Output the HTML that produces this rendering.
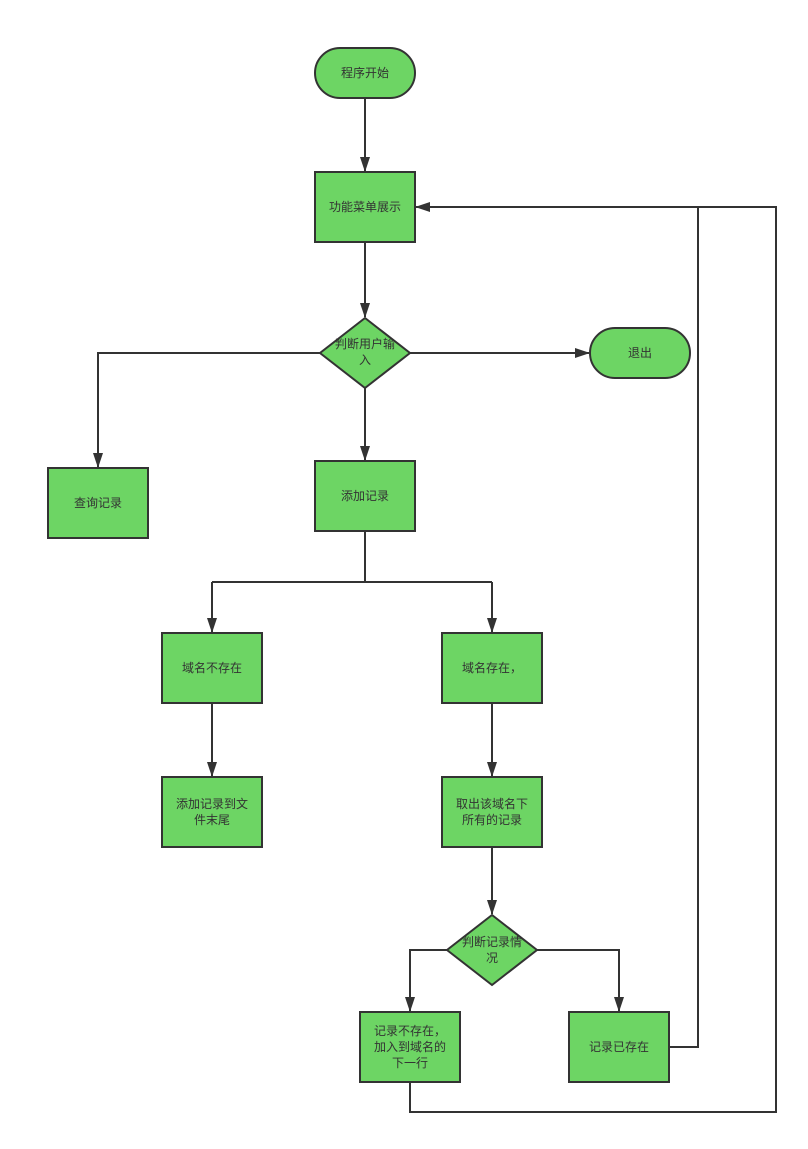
<!DOCTYPE html>
<html><head><meta charset="utf-8"><style>
html,body{margin:0;padding:0;background:#fff;}
svg text{font-family:"Liberation Sans","Noto Sans CJK SC",sans-serif;font-size:12px;fill:#333;text-anchor:middle;}
</style></head><body>
<svg width="808" height="1144" viewBox="0 0 808 1144" xmlns="http://www.w3.org/2000/svg">
<defs><marker id="a" markerWidth="15" markerHeight="11" refX="14" refY="5" orient="auto" markerUnits="userSpaceOnUse" viewBox="0 0 15 10"><path d="M0,0 L15,5 L0,10 Z" fill="#333"/></marker></defs>
<g fill="none" stroke="#333" stroke-width="2">
<path d="M365,98 V171" marker-end="url(#a)"/>
<path d="M365,242 V317" marker-end="url(#a)"/>
<path d="M320,353 H98 V467" marker-end="url(#a)"/>
<path d="M410,353 H589" marker-end="url(#a)"/>
<path d="M365,388 V460" marker-end="url(#a)"/>
<path d="M365,531 V582 M212,582 H492"/>
<path d="M212,582 V632" marker-end="url(#a)"/>
<path d="M492,582 V632" marker-end="url(#a)"/>
<path d="M212,703 V776" marker-end="url(#a)"/>
<path d="M492,703 V776" marker-end="url(#a)"/>
<path d="M492,847 V914" marker-end="url(#a)"/>
<path d="M447,950 H410 V1011" marker-end="url(#a)"/>
<path d="M537,950 H619 V1011" marker-end="url(#a)"/>
<path d="M669,1047 H698 V207 H416" marker-end="url(#a)"/>
<path d="M410,1082 V1112 H776 V207 H698"/>
</g>
<g fill="#6dd564" stroke="#333" stroke-width="2">
<rect x="315" y="48" width="100" height="50" rx="25"/>
<rect x="315" y="172" width="100" height="70"/>
<path d="M365,318 L410,353 L365,388 L320,353 Z"/>
<rect x="590" y="328" width="100" height="50" rx="25"/>
<rect x="48" y="468" width="100" height="70"/>
<rect x="315" y="461" width="100" height="70"/>
<rect x="162" y="633" width="100" height="70"/>
<rect x="442" y="633" width="100" height="70"/>
<rect x="162" y="777" width="100" height="70"/>
<rect x="442" y="777" width="100" height="70"/>
<path d="M492,915 L537,950 L492,985 L447,950 Z"/>
<rect x="360" y="1012" width="100" height="70"/>
<rect x="569" y="1012" width="100" height="70"/>
</g>
<text x="365" y="77">程序开始</text>
<text x="365" y="211">功能菜单展示</text>
<text x="365" y="348">判断用户输</text>
<text x="365" y="364">入</text>
<text x="640" y="357">退出</text>
<text x="98" y="507">查询记录</text>
<text x="365" y="500">添加记录</text>
<text x="212" y="672">域名不存在</text>
<text x="492" y="672">域名存在，</text>
<text x="212" y="808">添加记录到文</text>
<text x="212" y="824">件末尾</text>
<text x="492" y="808">取出该域名下</text>
<text x="492" y="824">所有的记录</text>
<text x="492" y="946">判断记录情</text>
<text x="492" y="962">况</text>
<text x="410" y="1035">记录不存在，</text>
<text x="410" y="1051">加入到域名的</text>
<text x="410" y="1067">下一行</text>
<text x="619" y="1051">记录已存在</text>
</svg>
</body></html>
